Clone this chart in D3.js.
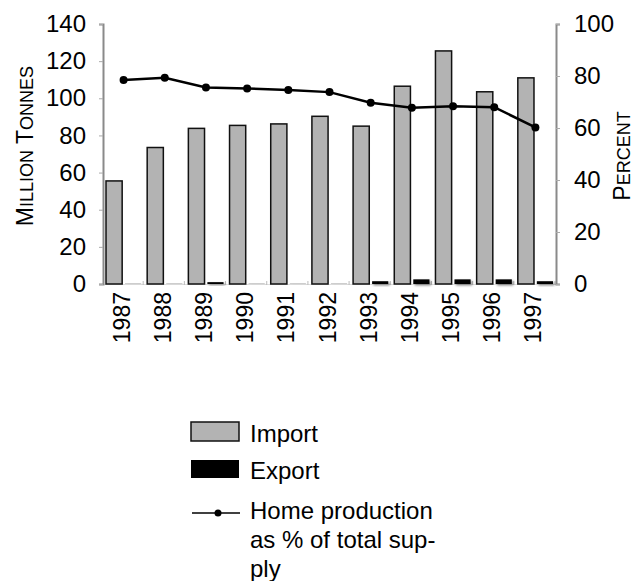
<!DOCTYPE html>
<html>
<head>
<meta charset="utf-8">
<script src="https://cdn.jsdelivr.net/npm/d3@7"></script>
<style>
  body { margin: 0; background: #fff; }
  svg { display: block; font-family: "Liberation Sans", Arial, sans-serif; }
</style>
</head>
<body>
<svg id="chart" width="644" height="581"></svg>
<script>
const years = ['1987', '1988', '1989', '1990', '1991', '1992', '1993', '1994', '1995', '1996', '1997'];
const importValues = [55.5, 73.5, 83.8, 85.4, 86.2, 90.3, 85, 106.5, 125.5, 103.5, 111];
const exportValues = [0.1, 0.1, 1, 0.1, 0.1, 0.1, 1.5, 2.5, 2.5, 2.5, 1.5];
const homeProduction = [78.5, 79.3, 75.6, 75.2, 74.6, 73.8, 69.7, 67.8, 68.4, 68, 60.2];
const leftTicks = [0, 20, 40, 60, 80, 100, 120, 140];
const rightTicks = [0, 20, 40, 60, 80, 100];

const svg = d3.select('#chart');
const margin = { left: 103, right: 88, top: 24, bottom: 297 };
const width = 644 - margin.left - margin.right;
const height = 581 - margin.top - margin.bottom;

const defs = svg.append('defs');
defs.append('filter')
  .attr('id', 'shadow')
  .attr('x', '-30%').attr('y', '-100%')
  .attr('width', '160%').attr('height', '300%')
  .append('feDropShadow')
  .attr('dx', 1.5).attr('dy', 1.5)
  .attr('stdDeviation', 1)
  .attr('flood-color', '#000')
  .attr('flood-opacity', 0.45);
defs.append('filter')
  .attr('id', 'soft')
  .append('feGaussianBlur')
  .attr('stdDeviation', 0.6);

const g = svg.append('g').attr('transform', `translate(${margin.left},${margin.top})`);

const x0 = d3.scaleBand().domain(years).range([0, width]).padding(0);
const x1 = d3.scaleBand().domain(['import', 'export']).range([3, x0.bandwidth() - 3]).paddingInner(0.15);
const yLeft = d3.scaleLinear().domain([0, 140]).range([height, 0]);
const yRight = d3.scaleLinear().domain([0, 100]).range([height, 0]);

// faint baseline with small ticks
g.append('line')
  .attr('x1', 0).attr('x2', width)
  .attr('y1', height + 0.5).attr('y2', height + 0.5)
  .attr('stroke', '#ddd').attr('stroke-width', 1.2);

g.append('g')
  .selectAll('line')
  .data(years)
  .join('line')
  .attr('x1', d => x0(d) + x0.bandwidth() - 1)
  .attr('x2', d => x0(d) + x0.bandwidth() - 1)
  .attr('y1', height - 3).attr('y2', height + 1)
  .attr('stroke', '#bbb');

// axes
const leftAxis = g.append('g')
  .call(d3.axisLeft(yLeft).tickValues(leftTicks).tickSize(4).tickPadding(13));
const rightAxis = g.append('g')
  .attr('transform', `translate(${width},0)`)
  .call(d3.axisRight(yRight).tickValues(rightTicks).tickSize(4).tickPadding(14));

[leftAxis, rightAxis].forEach(ax => {
  ax.select('.domain').attr('stroke', '#8a8a8a').attr('stroke-width', 2);
  ax.selectAll('.tick line').attr('stroke', '#aaa');
  ax.selectAll('.tick text')
    .attr('font-size', 24)
    .attr('fill', '#000')
    .attr('font-family', '"Liberation Sans", Arial, sans-serif');
});

// bars
const groups = g.append('g')
  .selectAll('g')
  .data(years)
  .join('g')
  .attr('transform', d => `translate(${x0(d)},0)`);

groups.append('rect')
  .attr('x', x1('import'))
  .attr('width', x1.bandwidth())
  .attr('y', (d, i) => yLeft(importValues[i]))
  .attr('height', (d, i) => height - yLeft(importValues[i]))
  .attr('fill', '#b3b3b3')
  .attr('stroke', '#111')
  .attr('stroke-width', 1.5);

groups.append('rect')
  .attr('x', x1('export'))
  .attr('width', x1.bandwidth())
  .attr('y', (d, i) => yLeft(exportValues[i]))
  .attr('height', (d, i) => height - yLeft(exportValues[i]))
  .attr('fill', '#000')
  .attr('filter', 'url(#shadow)');

// home production line
const cx = d => x0(d) + x0.bandwidth() / 2;
g.append('path')
  .datum(homeProduction)
  .attr('fill', 'none')
  .attr('stroke', '#000')
  .attr('stroke-width', 2.5)
  .attr('d', d3.line().x((d, i) => cx(years[i])).y(d => yRight(d)));

g.append('g')
  .selectAll('circle')
  .data(homeProduction)
  .join('circle')
  .attr('cx', (d, i) => cx(years[i]))
  .attr('cy', d => yRight(d))
  .attr('r', 4)
  .attr('fill', '#000')
  .attr('filter', 'url(#soft)');

// year labels
g.append('g')
  .selectAll('text')
  .data(years)
  .join('text')
  .attr('transform', d => `translate(${cx(d) + 6},${height + 8}) rotate(-90)`)
  .attr('text-anchor', 'end')
  .attr('font-size', 23)
  .text(d => d);

// axis titles, drawn as small caps
const smallCaps = (sel, words) => {
  words.forEach((w, i) => {
    sel.append('tspan').attr('font-size', 23).text((i ? ' ' : '') + w[0]);
    sel.append('tspan').attr('font-size', 18).text(w.slice(1).toUpperCase());
  });
};

svg.append('text')
  .attr('transform', 'translate(33,146) rotate(-90)')
  .attr('text-anchor', 'middle')
  .call(smallCaps, ['Million', 'Tonnes']);

svg.append('text')
  .attr('transform', 'translate(630,156) rotate(-90)')
  .attr('text-anchor', 'middle')
  .call(smallCaps, ['Percent']);

// legend
const legend = svg.append('g').attr('transform', 'translate(191,422)');
legend.append('rect')
  .attr('width', 48).attr('height', 19)
  .attr('fill', '#b3b3b3').attr('stroke', '#111').attr('stroke-width', 1.5);
legend.append('text').attr('x', 59).attr('y', 20).attr('font-size', 24).text('Import');

legend.append('rect')
  .attr('y', 38).attr('width', 48).attr('height', 18)
  .attr('fill', '#000').attr('filter', 'url(#soft)');
legend.append('text').attr('x', 59).attr('y', 57).attr('font-size', 24).text('Export');

legend.append('line')
  .attr('x1', 1).attr('x2', 49).attr('y1', 91).attr('y2', 91)
  .attr('stroke', '#000').attr('stroke-width', 1.5);
legend.append('circle').attr('cx', 27).attr('cy', 91).attr('r', 3.5).attr('fill', '#000');
const homeText = legend.append('text').attr('x', 59).attr('y', 97).attr('font-size', 24);
['Home production', 'as % of total sup-', 'ply'].forEach((t, i) => {
  homeText.append('tspan').attr('x', 59).attr('dy', i === 0 ? 0 : 29).text(t);
});
</script>
</body>
</html>
